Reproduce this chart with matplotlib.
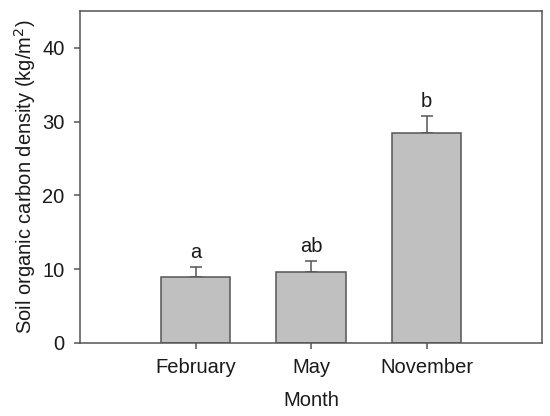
import matplotlib
matplotlib.use("Agg")
import matplotlib.pyplot as plt

months = ["February", "May", "November"]
means = [8.95, 9.6, 28.4]
errors = [1.3, 1.5, 2.4]
letters = ["a", "ab", "b"]

plt.rcParams['font.family'] = ['Liberation Sans', 'DejaVu Sans']
edge = "#555555"
txt = "#1a1a1a"

fig = plt.figure(figsize=(5.5, 4.16), dpi=100)
ax = fig.add_axes([80/550, 1-343/416, (542-80)/550, (343-11)/416])

pos = [1, 2, 3]
ax.bar(pos, means, width=0.6, color="#c0c0c0", edgecolor=edge, linewidth=1.1, zorder=2)
ax.errorbar(pos, means, yerr=[[0]*3, errors], fmt="none", ecolor=edge,
            elinewidth=1.1, capsize=4, capthick=1.1, zorder=1)
for p, m, e, l in zip(pos, means, errors, letters):
    ax.text(p, m + e + 0.7, l, ha="center", va="bottom", fontsize=14.5, color=txt)

ax.set_xlim(0, 4)
ax.set_ylim(0, 45)
ax.set_xticks(pos)
ax.set_xticklabels(months)
ax.set_yticks([0, 10, 20, 30, 40])
for s in ax.spines.values():
    s.set_color(edge)
    s.set_linewidth(1.1)
ax.tick_params(direction="out", length=4, width=1.1, color=edge, labelsize=14.5,
               labelcolor=txt, pad=7)
ax.set_xlabel("Month", fontsize=14.5, color=txt, labelpad=10)
ax.set_ylabel("Soil organic carbon density (kg/m$^2$)", fontsize=14.5, color=txt, labelpad=3)

fig.savefig("out.png", dpi=100)
